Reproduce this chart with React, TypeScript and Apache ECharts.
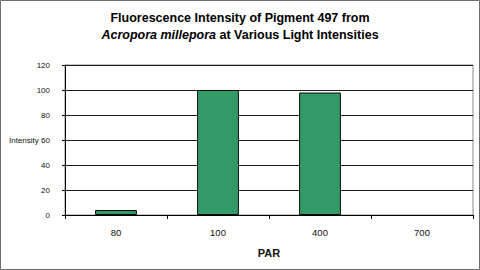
import React, { useEffect, useRef } from "react";
import * as echarts from "echarts";

const categories = ["80", "100", "400", "700"];
const intensity = [4, 100, 98, 0];
const yTicks = { min: 0, max: 120, interval: 20 };

export default function App() {
  const ref = useRef<HTMLDivElement>(null);
  useEffect(() => {
    if (!ref.current) return;
    const chart = echarts.init(ref.current, null, { renderer: "svg" });
    const font = "Liberation Sans, Arial, sans-serif";
    chart.setOption({
      animation: false,
      backgroundColor: "#ffffff",
      title: {
        text: "Fluorescence Intensity of Pigment 497 from\n{i|Acropora millepora} at Various Light Intensities",
        left: "center",
        top: 4,
        textStyle: {
          fontFamily: font,
          fontSize: 12.5,
          fontWeight: "bold",
          color: "#000",
          lineHeight: 17,
          rich: {
            i: {
              fontFamily: font,
              fontSize: 12.5,
              fontWeight: "bold",
              fontStyle: "italic",
              color: "#000",
              lineHeight: 17,
            },
          },
        },
      },
      grid: {
        left: 65,
        right: 7,
        top: 65,
        bottom: 55,
        show: true,
        borderColor: "#8a8a8a",
        borderWidth: 1,
        backgroundColor: "#ffffff",
      },
      graphic: [
        {
          type: "rect",
          shape: { x: 0.5, y: 0.5, width: 479, height: 269 },
          style: { fill: "none", stroke: "#6e6e6e", lineWidth: 1 },
          silent: true,
        },
        {
          type: "text",
          x: 9,
          y: 140,
          style: {
            text: "Intensity",
            fontFamily: font,
            fontSize: 8,
            fill: "#111",
            textVerticalAlign: "middle",
          },
        },
      ],
      xAxis: {
        type: "category",
        data: categories,
        name: "PAR",
        nameLocation: "middle",
        nameGap: 32,
        nameTextStyle: {
          fontFamily: font,
          fontSize: 11,
          fontWeight: "bold",
          color: "#111",
        },
        axisLine: { lineStyle: { color: "#000", width: 1 } },
        axisTick: { show: true, length: 4, interval: 0, lineStyle: { color: "#000" } },
        axisLabel: {
          margin: 12,
          fontFamily: font,
          fontSize: 9.5,
          color: "#111",
        },
      },
      yAxis: {
        type: "value",
        min: yTicks.min,
        max: yTicks.max,
        interval: yTicks.interval,
        axisLine: { show: true, lineStyle: { color: "#000", width: 1 } },
        axisTick: { show: true, length: 3, lineStyle: { color: "#000" } },
        axisLabel: {
          margin: 15,
          fontFamily: font,
          fontSize: 8,
          color: "#111",
        },
        splitLine: { show: true, lineStyle: { color: "#1a1a1a", width: 1 } },
      },
      series: [
        {
          type: "bar",
          data: intensity.map((v) =>
            v === 0 ? { value: v, itemStyle: { borderWidth: 0 } } : v
          ),
          barWidth: "41%",
          itemStyle: { color: "#339966", borderColor: "#0a0a0a", borderWidth: 1 },
        },
      ],
    });
    return () => chart.dispose();
  }, []);
  return (
    <div
      ref={ref}
      style={{ position: "fixed", left: 0, top: 0, width: 480, height: 270 }}
    />
  );
}
